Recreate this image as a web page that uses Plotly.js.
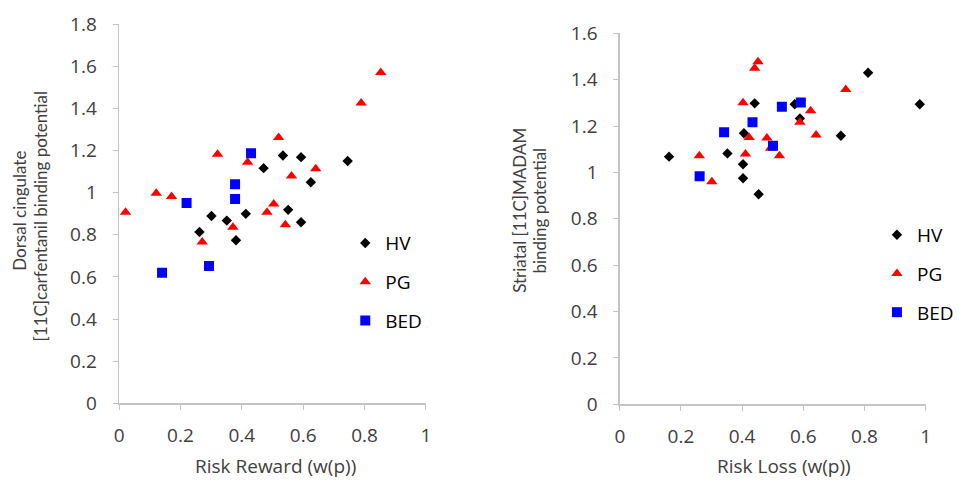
<!DOCTYPE html>
<html>
<head>
<meta charset="utf-8">
<script src="https://cdn.plot.ly/plotly-3.0.1.min.js"></script>
<style>html,body{margin:0;padding:0;background:#fff;}#chart{width:959px;height:482px;}</style>
</head>
<body>
<div id="chart"></div>
<script>
// Left panel: Risk Reward vs Dorsal cingulate [11C]carfentanil BP
const rewardHV_x = [0.745, 0.534, 0.593, 0.471, 0.625, 0.551, 0.593, 0.413, 0.301, 0.351, 0.262, 0.381];
const rewardHV_y = [1.150, 1.176, 1.168, 1.116, 1.049, 0.918, 0.859, 0.899, 0.889, 0.867, 0.813, 0.774];
const rewardPG_x = [0.853, 0.789, 0.520, 0.321, 0.419, 0.641, 0.562, 0.121, 0.171, 0.021, 0.504, 0.482, 0.371, 0.542, 0.271];
const rewardPG_y = [1.570, 1.425, 1.261, 1.182, 1.144, 1.113, 1.079, 0.997, 0.981, 0.907, 0.946, 0.907, 0.836, 0.847, 0.765];
const rewardBED_x = [0.430, 0.378, 0.378, 0.220, 0.140, 0.293];
const rewardBED_y = [1.187, 1.040, 0.969, 0.950, 0.620, 0.652];

// Right panel: Risk Loss vs Striatal [11C]MADAM BP
const lossHV_x = [0.812, 0.981, 0.441, 0.572, 0.589, 0.723, 0.406, 0.161, 0.352, 0.403, 0.403, 0.454];
const lossHV_y = [1.430, 1.294, 1.298, 1.294, 1.233, 1.158, 1.169, 1.068, 1.082, 1.035, 0.975, 0.906];
const lossPG_x = [0.452, 0.441, 0.739, 0.403, 0.624, 0.589, 0.642, 0.423, 0.481, 0.493, 0.522, 0.411, 0.260, 0.301];
const lossPG_y = [1.477, 1.449, 1.358, 1.301, 1.266, 1.216, 1.161, 1.151, 1.148, 1.104, 1.072, 1.079, 1.072, 0.960];
const lossBED_x = [0.592, 0.530, 0.434, 0.341, 0.501, 0.261];
const lossBED_y = [1.302, 1.283, 1.216, 1.173, 1.115, 0.984];

const groupNames = ["HV", "PG", "BED"];
const xTickVals = [0, 0.2, 0.4, 0.6, 0.8, 1];
const xTickText = ["0", "0.2", "0.4", "0.6", "0.8", "1"];
const yTickValsL = [0, 0.2, 0.4, 0.6, 0.8, 1, 1.2, 1.4, 1.6, 1.8];
const yTickTextL = ["0", "0.2", "0.4", "0.6", "0.8", "1", "1.2", "1.4", "1.6", "1.8"];
const yTickValsR = [0, 0.2, 0.4, 0.6, 0.8, 1, 1.2, 1.4, 1.6];
const yTickTextR = ["0", "0.2", "0.4", "0.6", "0.8", "1", "1.2", "1.4", "1.6"];
const xTitleL = "Risk Reward (w(p))";
const xTitleR = "Risk Loss (w(p))";
const yTitleL = ["Dorsal cingulate", "[11C]carfentanil binding potential"];
const yTitleR = ["Striatal [11C]MADAM", "binding potential"];

const styles = [
  {symbol: "diamond", color: "#000000", size: 8},
  {symbol: "triangle-up", color: "#ff0000", size: 10},
  {symbol: "square", color: "#0000ff", size: 10}
];

function mk(x, y, i, xa, ya, leg, grp) {
  return {
    type: "scatter", mode: "markers", x: x, y: y, name: groupNames[i],
    xaxis: xa, yaxis: ya, legend: leg, legendgroup: grp,
    marker: {symbol: styles[i].symbol, color: styles[i].color, size: styles[i].size, line: {width: 0}},
    hoverinfo: "x+y"
  };
}

const data = [
  mk(rewardHV_x, rewardHV_y, 0, "x", "y", "legend", "l0"),
  mk(rewardPG_x, rewardPG_y, 1, "x", "y", "legend", "l1"),
  mk(rewardBED_x, rewardBED_y, 2, "x", "y", "legend", "l2"),
  mk(lossHV_x, lossHV_y, 0, "x2", "y2", "legend2", "r0"),
  mk(lossPG_x, lossPG_y, 1, "x2", "y2", "legend2", "r1"),
  mk(lossBED_x, lossBED_y, 2, "x2", "y2", "legend2", "r2")
];

const HFONT = "'Open Sans', Lato, sans-serif";
const VFONT = "Lato, 'Open Sans', sans-serif";
const tickFont = {family: HFONT, size: 19, color: "#404040"};
const hTitleFont = {family: HFONT, size: 19, color: "#404040"};
const vTitleFont = {family: VFONT, size: 17, color: "#404040"};
const axisGrey = "#c4c4c4";

function xAxis(domain, anchor) {
  return {
    domain: domain, anchor: anchor, range: [0, 1], tickvals: xTickVals, ticktext: xTickText,
    showgrid: false, zeroline: false, showline: true, linecolor: axisGrey, linewidth: 1.5,
    ticks: "outside", ticklen: 5, tickcolor: axisGrey, tickfont: tickFont, ticklabelstandoff: 9,
    fixedrange: true
  };
}
function yAxis(domain, anchor, range, tv, tt) {
  return {
    domain: domain, anchor: anchor, range: range, tickvals: tv, ticktext: tt,
    showgrid: false, zeroline: false, showline: true, linecolor: axisGrey, linewidth: 1.5,
    ticks: "outside", ticklen: 5, tickcolor: axisGrey, tickfont: tickFont, ticklabelstandoff: 12,
    fixedrange: true
  };
}

const W = 959, H = 482;
function ann(text, px, py, font, angle) {
  return {text: text, xref: "paper", yref: "paper", x: px / W, y: 1 - py / H,
          xanchor: "center", yanchor: "middle", showarrow: false, font: font, textangle: angle || 0};
}

const layout = {
  width: W, height: H,
  margin: {l: 0, r: 0, t: 0, b: 0},
  paper_bgcolor: "#ffffff", plot_bgcolor: "#ffffff",
  showlegend: true,
  xaxis: xAxis([0.1259, 0.4502], "y"),
  yaxis: yAxis([0.1633, 0.9502], "x", [0, 1.8], yTickValsL, yTickTextL),
  xaxis2: xAxis([0.6552, 0.9784], "y2"),
  yaxis2: yAxis([0.1612, 0.9309], "x2", [0, 1.6], yTickValsR, yTickTextR),
  annotations: [
    ann(xTitleL, 279, 466, hTitleFont),
    ann(xTitleR, 795, 466, hTitleFont),
    ann(yTitleL[0], 19, 211, vTitleFont, -90),
    ann(yTitleL[1], 42, 216, vTitleFont, -90),
    ann(yTitleR[0], 526, 210, vTitleFont, -90),
    ann(yTitleR[1], 546, 211, vTitleFont, -90)
  ],
  legend: {x: 350 / W, y: 0.535, xanchor: "left", yanchor: "top", font: {family: HFONT, size: 19, color: "#000"},
           tracegroupgap: 11, bgcolor: "rgba(0,0,0,0)"},
  legend2: {x: 889 / W, y: 0.552, xanchor: "left", yanchor: "top", font: {family: HFONT, size: 19, color: "#000"},
           tracegroupgap: 11, bgcolor: "rgba(0,0,0,0)"}
};

Plotly.newPlot("chart", data, layout, {displayModeBar: false, staticPlot: true});
</script>
</body>
</html>
